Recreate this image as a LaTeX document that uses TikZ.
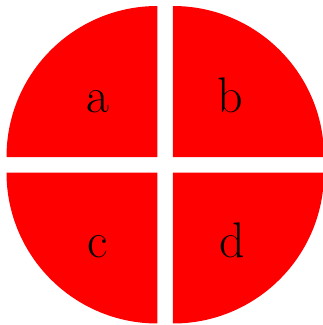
\documentclass[tikz,border=0pt]{standalone}
\usepackage{tikz}
\usetikzlibrary{positioning}

\tikzset{
  quarter/.style={fill=red, draw=none},
  letter/.style={font=\fontsize{50}{60}\selectfont, anchor=base, inner sep=0pt}
}

\begin{document}
\begin{tikzpicture}[x=1pt, y=1pt]
  \useasboundingbox (0,0) rectangle (323,325);
  % four quarters with white gaps
  \fill[quarter] (157.5,168) -- ++(-151,0)
    arc[start angle=180, end angle=90, radius=151] -- cycle;
  \fill[quarter] (173,168) -- ++(0,151)
    arc[start angle=90, end angle=0, radius=151] -- cycle;
  \fill[quarter] (157.5,152.5) -- ++(0,-151)
    arc[start angle=270, end angle=180, radius=151] -- cycle;
  \fill[quarter] (173,152.5) -- ++(151,0)
    arc[start angle=0, end angle=-90, radius=151] -- cycle;

  \node[letter] (a) at (98,212) {a};
  \node[letter] (b) at (230,212) {b};
  \node[letter] (c) at (98,67) {c};
  \node[letter] (d) at (232,67) {d};
\end{tikzpicture}
\end{document}
